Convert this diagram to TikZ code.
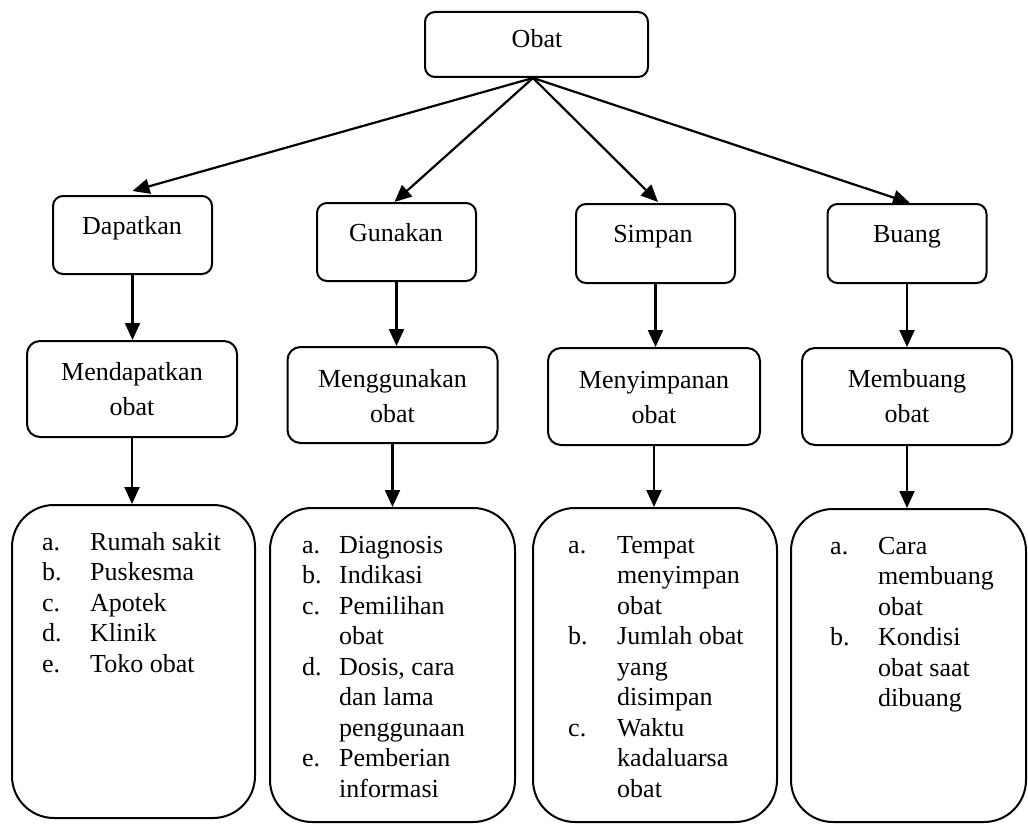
\documentclass[tikz,border=0pt]{standalone}
\usepackage{fontspec}
\setmainfont{Liberation Serif}
\usetikzlibrary{arrows.meta}
\begin{document}
\begin{tikzpicture}[x=1pt,y=-1pt,
  box/.style={draw, line width=2pt, rounded corners=10pt, inner sep=0pt},
  tbox/.style={box, minimum width=159pt, minimum height=78pt},
  mbox/.style={box, rounded corners=13pt, minimum width=210pt, minimum height=96pt},
  lbox/.style={box, rounded corners=42pt, minimum width=244pt, minimum height=314pt},
  txt/.style={inner sep=0pt, anchor=base, font=\fontsize{26}{35}\selectfont},
  lst/.style={inner sep=0pt, anchor=base west, font=\fontsize{26}{30.5}\selectfont},
  arr/.style={line width=2.2pt, -{Triangle[length=17pt,width=15pt]}}]
\useasboundingbox (0,0) rectangle (1028,824);

% top
\node[box, minimum width=223pt, minimum height=65pt] (obat) at (536.5,44.5) {};
\node[txt] (obatt) at (537,48) {Obat};

% second row
\node[tbox] (dap) at (132.5,235) {};
\node[txt] (dapt) at (132,234) {Dapatkan};
\node[tbox] (gun) at (396.5,242) {};
\node[txt] (gunt) at (396,241) {Gunakan};
\node[tbox, minimum height=79pt] (sim) at (655.5,243.5) {};
\node[txt] (simt) at (653,242) {Simpan};
\node[tbox, minimum height=79pt] (bua) at (907,243.5) {};
\node[txt] (buat) at (907,242) {Buang};

% third row
\node[mbox] (mdap) at (132,389) {};
\node[txt] (mdapt) at (132,380) {\begin{tabular}[t]{@{}c@{}}Mendapatkan\\obat\end{tabular}};
\node[mbox] (mgun) at (392.5,395) {};
\node[txt] (mgunt) at (392.5,387) {\begin{tabular}[t]{@{}c@{}}Menggunakan\\obat\end{tabular}};
\node[mbox, minimum width=212pt, minimum height=97pt] (msim) at (654,396.5) {};
\node[txt] (msimt) at (654,388) {\begin{tabular}[t]{@{}c@{}}Menyimpanan\\obat\end{tabular}};
\node[mbox, minimum height=97pt] (mbua) at (907,396.5) {};
\node[txt] (mbuat) at (907,387) {\begin{tabular}[t]{@{}c@{}}Membuang\\obat\end{tabular}};

% bottom row
\node[lbox, minimum width=243pt, minimum height=313pt] (b1) at (133.5,661.5) {};
\node[lbox, minimum width=245pt] (b2) at (392.5,665) {};
\node[lbox] (b3) at (655,665) {};
\node[lbox, minimum width=235pt, minimum height=313pt] (b4) at (908.5,665.5) {};

\node[lst] (l1) at (42,550) {\begin{tabular}[t]{@{}p{48pt}@{}l@{}}
a. & Rumah sakit\\
b. & Puskesma\\
c. & Apotek\\
d. & Klinik\\
e. & Toko obat
\end{tabular}};
\node[lst] (l2) at (302,553) {\begin{tabular}[t]{@{}p{37pt}@{}l@{}}
a. & Diagnosis\\
b. & Indikasi\\
c. & Pemilihan\\
   & obat\\
d. & Dosis, cara\\
   & dan lama\\
   & penggunaan\\
e. & Pemberian\\
   & informasi
\end{tabular}};
\node[lst] (l3) at (568,553) {\begin{tabular}[t]{@{}p{49pt}@{}l@{}}
a. & Tempat\\
   & menyimpan\\
   & obat\\
b. & Jumlah obat\\
   & yang\\
   & disimpan\\
c. & Waktu\\
   & kadaluarsa\\
   & obat
\end{tabular}};
\node[lst] (l4) at (830,554) {\begin{tabular}[t]{@{}p{48pt}@{}l@{}}
a. & Cara\\
   & membuang\\
   & obat\\
b. & Kondisi\\
   & obat saat\\
   & dibuang
\end{tabular}};

% connectors
\coordinate (apex) at ([xshift=-3.5pt]obat.south);
\draw[arr] (apex) -- ([yshift=4pt]dap.north);
\draw[arr] (apex) -- ([xshift=-2pt]gun.north);
\draw[arr] (apex) -- ([xshift=2.5pt,yshift=1pt]sim.north);
\draw[arr] (apex) -- ([xshift=3pt]bua.north);

\draw[arr] (dap.south) -- (dap.south |- mdap.north);
\draw[arr] (gun.south) -- (gun.south |- mgun.north);
\draw[arr] (sim.south) -- (sim.south |- msim.north);
\draw[arr] (bua.south) -- (bua.south |- mbua.north);

\draw[arr] (mdap.south) -- (mdap.south |- b1.north);
\draw[arr] (mgun.south) -- (mgun.south |- b2.north);
\draw[arr] (msim.south) -- (msim.south |- b3.north);
\draw[arr] (mbua.south) -- (mbua.south |- b4.north);
\end{tikzpicture}
\end{document}
